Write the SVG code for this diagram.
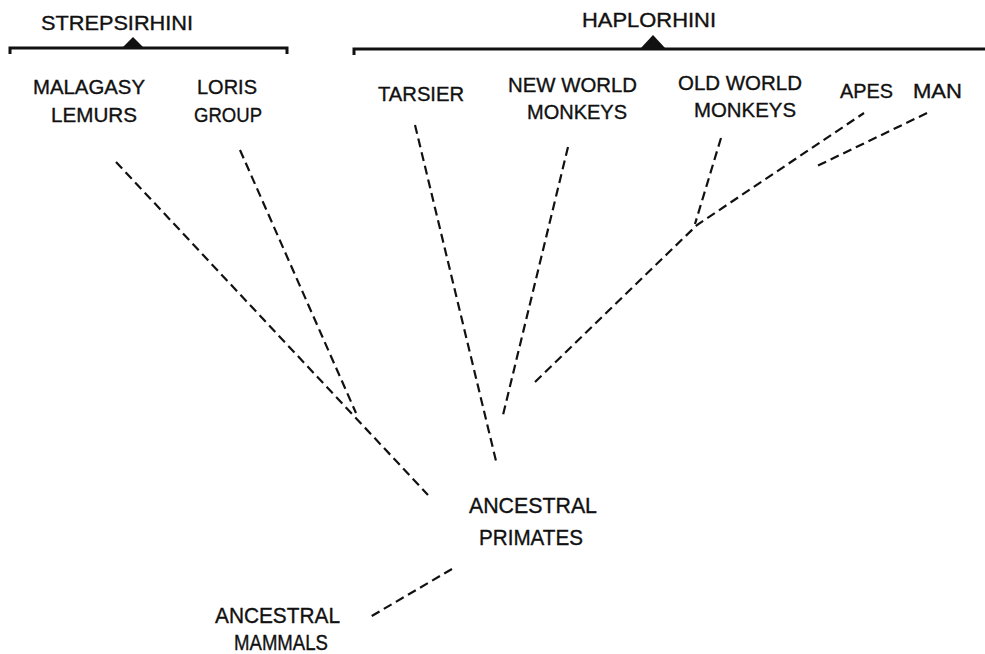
<svg xmlns="http://www.w3.org/2000/svg" width="985" height="654" viewBox="0 0 985 654">
<style>
  .lbl { font-family: "Liberation Sans", Arial, Helvetica, sans-serif; font-size: 20px; fill: #111; stroke: #111; stroke-width: 0.35; }
  .big { font-size: 21.5px; }
  .dash { fill: none; stroke: #111; stroke-width: 2.2; stroke-dasharray: 9 5; }
  .brk { fill: none; stroke: #111; stroke-width: 3; }
  .tri { fill: #111; }
</style>
<rect width="985" height="654" fill="#ffffff"/>

<g id="strepsirhini">
  <text class="lbl" x="41" y="30" textLength="152" lengthAdjust="spacingAndGlyphs">STREPSIRHINI</text>
  <path class="brk" d="M10,54 L10,48 L287,48 L287,54"/>
  <polygon class="tri" points="122,48 133,37 144,48"/>
</g>

<g id="haplorhini">
  <text class="lbl" x="582" y="27" textLength="134" lengthAdjust="spacingAndGlyphs">HAPLORHINI</text>
  <path class="brk" d="M354,55 L354,49 L985,49"/>
  <polygon class="tri" points="640,49 653,35 666,49"/>
</g>

<g id="malagasy-lemurs">
  <text class="lbl" x="33" y="94" textLength="112" lengthAdjust="spacingAndGlyphs">MALAGASY</text>
  <text class="lbl" x="51" y="122" textLength="86" lengthAdjust="spacingAndGlyphs">LEMURS</text>
</g>

<g id="loris-group">
  <text class="lbl" x="197" y="94" textLength="60" lengthAdjust="spacingAndGlyphs">LORIS</text>
  <text class="lbl" x="194" y="122" textLength="68" lengthAdjust="spacingAndGlyphs">GROUP</text>
</g>

<g id="tarsier">
  <text class="lbl" x="378" y="101" textLength="86" lengthAdjust="spacingAndGlyphs">TARSIER</text>
</g>

<g id="new-world-monkeys">
  <text class="lbl" x="508" y="92" textLength="129" lengthAdjust="spacingAndGlyphs">NEW WORLD</text>
  <text class="lbl" x="527" y="119" textLength="100" lengthAdjust="spacingAndGlyphs">MONKEYS</text>
</g>

<g id="old-world-monkeys">
  <text class="lbl" x="678" y="90" textLength="124" lengthAdjust="spacingAndGlyphs">OLD WORLD</text>
  <text class="lbl" x="694" y="117" textLength="102" lengthAdjust="spacingAndGlyphs">MONKEYS</text>
</g>

<g id="apes">
  <text class="lbl" x="840" y="98" textLength="53" lengthAdjust="spacingAndGlyphs">APES</text>
</g>

<g id="man">
  <text class="lbl" x="913" y="98" textLength="49" lengthAdjust="spacingAndGlyphs">MAN</text>
</g>

<g id="ancestral-primates">
  <text class="lbl big" x="469" y="513" textLength="128" lengthAdjust="spacingAndGlyphs">ANCESTRAL</text>
  <text class="lbl big" x="479" y="545" textLength="104" lengthAdjust="spacingAndGlyphs">PRIMATES</text>
</g>

<g id="ancestral-mammals">
  <text class="lbl big" x="215" y="623" textLength="125" lengthAdjust="spacingAndGlyphs">ANCESTRAL</text>
  <text class="lbl big" x="234" y="650" textLength="94" lengthAdjust="spacingAndGlyphs">MAMMALS</text>
</g>

<g id="connectors">
  <line class="dash" x1="116" y1="162" x2="428" y2="495"/>
  <line class="dash" x1="240" y1="150" x2="356" y2="413"/>
  <line class="dash" x1="415" y1="125" x2="497" y2="465"/>
  <line class="dash" x1="568" y1="147" x2="503" y2="415"/>
  <polyline class="dash" points="535,382 697,225 864,113"/>
  <line class="dash" x1="721" y1="138" x2="695" y2="224"/>
  <line class="dash" x1="927" y1="113" x2="815" y2="167"/>
  <line class="dash" x1="452" y1="569" x2="370" y2="617"/>
</g>
</svg>
